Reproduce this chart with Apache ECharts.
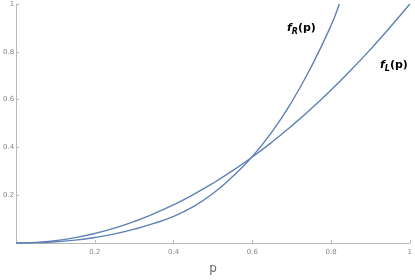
<!DOCTYPE html>
<html>
<head>
<meta charset="utf-8">
<script src="https://cdn.jsdelivr.net/npm/echarts@6/dist/echarts.min.js"></script>
<style>html,body{margin:0;padding:0;background:#fff;}#c{width:415px;height:280px;}</style>
</head>
<body>
<div id="c"></div>
<script>
var pL = [0, 0.05, 0.1, 0.15, 0.2, 0.25, 0.3, 0.35, 0.4, 0.45, 0.5, 0.55, 0.6, 0.65, 0.7, 0.75, 0.8, 0.85, 0.9, 0.95, 1.0];
var fL = [0, 0.0025, 0.01, 0.0225, 0.04, 0.0625, 0.09, 0.1225, 0.16, 0.2025, 0.25, 0.3025, 0.36, 0.4225, 0.49, 0.5625, 0.64, 0.7225, 0.81, 0.9025, 1.0];
var pR = [0, 0.05, 0.1, 0.15, 0.2, 0.25, 0.3, 0.35, 0.4, 0.45, 0.5, 0.55, 0.6, 0.65, 0.7, 0.75, 0.8, 0.821];
var fR = [0, 0.001, 0.005, 0.012, 0.023, 0.038, 0.058, 0.082, 0.111, 0.152, 0.207, 0.278, 0.362, 0.465, 0.59, 0.738, 0.91, 1.0];
var ticks = [0, 0.2, 0.4, 0.6, 0.8, 1];

function pairs(xs, ys){ return xs.map(function(x,i){ return [x, ys[i]]; }); }
function fmt(v){ return v === 0 ? '' : String(+v.toFixed(1)); }

var chart = echarts.init(document.getElementById('c'), null, {renderer:'canvas'});
var axisCol = '#b8b8b8';
var rich = {
  f: {fontFamily:'DejaVu Sans', fontWeight:'bold', fontStyle:'italic', fontSize:11, color:'#111'},
  s: {fontFamily:'DejaVu Sans', fontWeight:'bold', fontStyle:'italic', fontSize:8, color:'#111', verticalAlign:'bottom', padding:[6,0,0,0]},
  p: {fontFamily:'DejaVu Sans', fontWeight:'bold', fontSize:11, color:'#111'}
};
chart.setOption({
  animation:false,
  grid:{left:12, right:3, top:4, bottom:29, containLabel:false},
  xAxis:{type:'value', min:ticks[0], max:ticks[ticks.length-1], interval:0.2,
    name:'p', nameLocation:'middle', nameGap:20,
    nameTextStyle:{fontFamily:'DejaVu Sans', fontSize:12, color:'#666'},
    axisLine:{show:true, onZero:false, lineStyle:{color:axisCol, width:1}},
    axisTick:{show:true, inside:true, length:3, lineStyle:{color:axisCol}},
    axisLabel:{formatter:fmt, fontFamily:'DejaVu Sans', fontSize:7, color:'#888', margin:6},
    splitLine:{show:false}},
  yAxis:{type:'value', min:ticks[0], max:ticks[ticks.length-1], interval:0.2,
    axisLine:{show:true, onZero:false, lineStyle:{color:axisCol, width:1}},
    axisTick:{show:true, inside:true, length:3, lineStyle:{color:axisCol}},
    axisLabel:{formatter:fmt, fontFamily:'DejaVu Sans', fontSize:7, color:'#888', margin:2},
    splitLine:{show:false}},
  series:[
    {type:'line', data:pairs(pL,fL), smooth:true, showSymbol:false, clip:true,
     lineStyle:{color:'#5e81b5', width:1.4}},
    {type:'line', data:pairs(pR,fR), smooth:true, showSymbol:false, clip:true,
     lineStyle:{color:'#5e81b5', width:1.4}}
  ],
  graphic:[
    {type:'text', left:287, top:23, style:{text:'{f|f}{s|R}{p|(p)}', rich:rich}},
    {type:'text', left:380, top:60, style:{text:'{f|f}{s|L}{p|(p)}', rich:rich}}
  ]
});
</script>
</body>
</html>
